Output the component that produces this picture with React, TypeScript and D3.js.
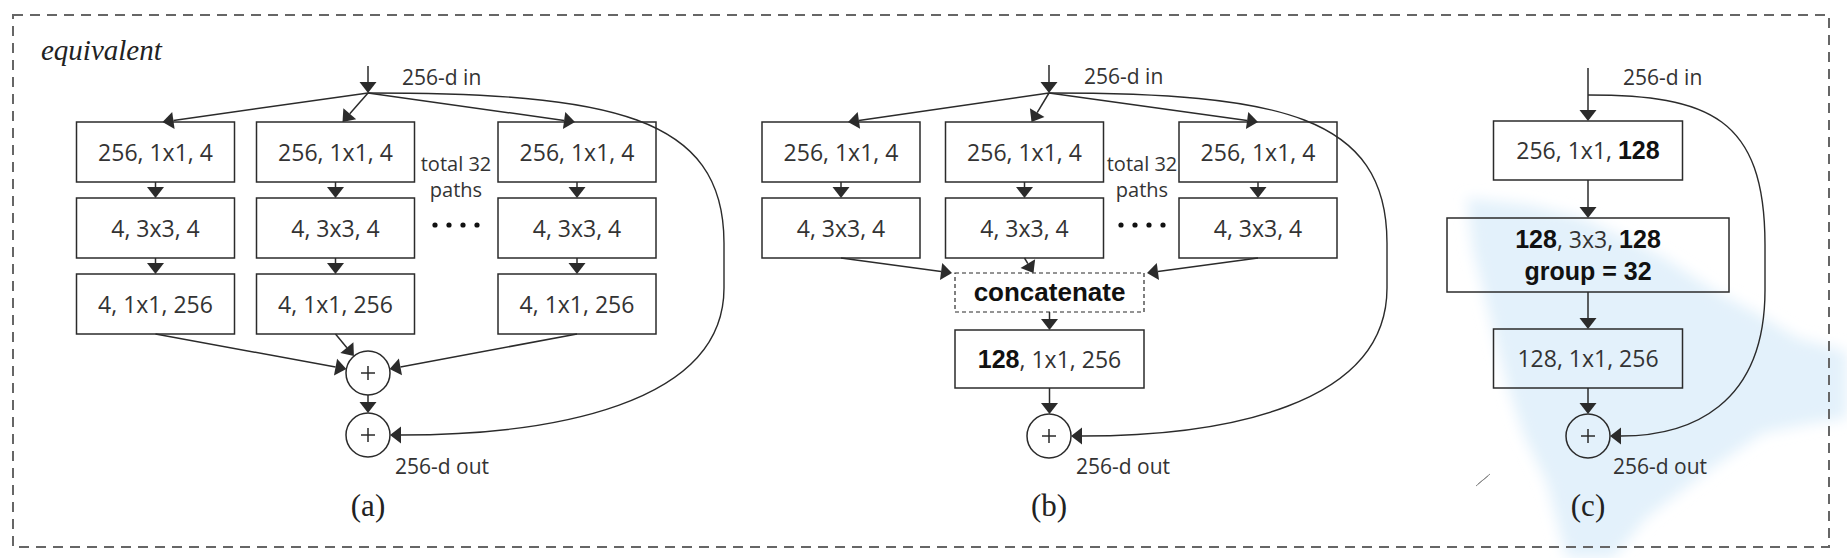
import { useEffect, useRef } from 'react'
import * as d3 from 'd3'

type Seg = { t: string; b?: boolean }

// text content of the figure
const cornerLabel = 'equivalent'
const inLabel = '256-d in'
const outLabel = '256-d out'
const panelTags = ['(a)', '(b)', '(c)']
const pathNote = ['total 32', 'paths']
const layersA = ['256, 1x1, 4', '4, 3x3, 4', '4, 1x1, 256']
const layersB = ['256, 1x1, 4', '4, 3x3, 4']
const concatLabel = 'concatenate'
const mergeB: Seg[] = [{ t: '128', b: true }, { t: ', 1x1, 256' }]
const layersC: Seg[][][] = [
  [[{ t: '256, 1x1, ' }, { t: '128', b: true }]],
  [[{ t: '128', b: true }, { t: ', 3x3, ' }, { t: '128', b: true }], [{ t: 'group = 32', b: true }]],
  [[{ t: '128, 1x1, 256' }]],
]
const shownPaths = ['first', 'second', 'last'] // 3 of the 32 paths are drawn

const W = 1847
const H = 558
const REG = "'Open Sans', 'Noto Sans', sans-serif"
const BOLD = "'Liberation Sans', Arial, sans-serif"
const SERIF = "'Liberation Serif', 'Times New Roman', serif"
const INK = '#2b2b2b'

export default function App() {
  const ref = useRef<HTMLDivElement>(null)

  useEffect(() => {
    if (!ref.current) return
    const container = ref.current
    container.innerHTML = ''

    const svg = d3.select(container).append('svg')
      .attr('width', W).attr('height', H)
      .style('position', 'absolute').style('left', 0).style('top', 0)
      .style('background', '#fff')

    const defs = svg.append('defs')
    defs.append('filter').attr('id', 'soft').attr('x', '-20%').attr('y', '-20%').attr('width', '140%').attr('height', '140%')
      .append('feGaussianBlur').attr('stdDeviation', 7)

    // faint blue smear behind panel (c)
    svg.append('path')
      .attr('d', d3.line()([[1467, 198], [1530, 205], [1580, 217], [1630, 240], [1663, 257], [1713, 290], [1760, 315], [1797, 338], [1847, 352], [1847, 418], [1813, 423], [1763, 433], [1713, 467], [1647, 517], [1613, 558], [1567, 558], [1560, 533], [1547, 483], [1523, 433], [1507, 383], [1490, 317], [1473, 250]]) + 'Z')
      .attr('fill', '#e3f1fb').attr('filter', 'url(#soft)')

    const g = svg.append('g')

    // small pen scribble left of (c)
    g.append('path').attr('d', 'M1476,486L1490,474M1478,484L1488,476')
      .attr('stroke', '#888').attr('stroke-width', 1)

    // dashed frame
    g.append('rect').attr('x', 13).attr('y', 15).attr('width', 1816).attr('height', 532)
      .attr('fill', 'none').attr('stroke', '#666').attr('stroke-width', 2).attr('stroke-dasharray', '10,7')

    g.append('text').attr('x', 41).attr('y', 60).text(cornerLabel)
      .style('font-family', SERIF).style('font-style', 'italic').style('font-size', '29px').attr('fill', '#222')

    const head = (x2: number, y2: number, a: number) => {
      const L = 11, hw = 8.5
      const bx = x2 - L * Math.cos(a), by = y2 - L * Math.sin(a)
      g.append('path')
        .attr('d', `M${x2},${y2}L${bx - hw * Math.sin(a)},${by + hw * Math.cos(a)}L${bx + hw * Math.sin(a)},${by - hw * Math.cos(a)}Z`)
        .attr('fill', INK)
      return [bx, by]
    }
    const arrow = (x1: number, y1: number, x2: number, y2: number) => {
      const a = Math.atan2(y2 - y1, x2 - x1)
      const [bx, by] = head(x2, y2, a)
      g.append('line').attr('x1', x1).attr('y1', y1).attr('x2', bx).attr('y2', by)
        .attr('stroke', INK).attr('stroke-width', 1.5)
    }
    const box = (cx: number, top: number, w: number, h: number, lines: Seg[][], dashed = false) => {
      g.append('rect').attr('x', cx - w / 2).attr('y', top).attr('width', w).attr('height', h)
        .attr('fill', 'none').attr('stroke', INK).attr('stroke-width', dashed ? 1.2 : 1.5)
        .attr('stroke-dasharray', dashed ? '4,3' : null)
      const lh = 32
      const y0 = top + h / 2 - (lines.length - 1) * lh / 2 + 8.5
      lines.forEach((ln, i) => {
        const t = g.append('text').attr('x', cx).attr('y', y0 + i * lh).attr('text-anchor', 'middle')
          .style('white-space', 'pre')
        ln.forEach(s => t.append('tspan').text(s.t)
          .style('font-family', s.b ? BOLD : REG).style('font-size', s.b ? '25px' : '23px')
          .style('font-weight', s.b ? 700 : 400).attr('fill', s.b ? '#111' : '#333'))
      })
    }
    const plus = (cx: number, cy: number) => {
      g.append('circle').attr('cx', cx).attr('cy', cy).attr('r', 22)
        .attr('fill', 'none').attr('stroke', INK).attr('stroke-width', 1.5)
      g.append('path').attr('d', `M${cx - 7},${cy}H${cx + 7}M${cx},${cy - 7}V${cy + 7}`)
        .attr('stroke', INK).attr('stroke-width', 1.5)
    }
    // arrow that ends on a circle's rim, aimed at its centre
    const toCircle = (x1: number, y1: number, cx: number, cy: number) => {
      const d = Math.hypot(cx - x1, cy - y1)
      arrow(x1, y1, cx - 22 * (cx - x1) / d, cy - 22 * (cy - y1) / d)
    }
    const label = (x: number, y: number, s: string, size = 21, anchor = 'start') =>
      g.append('text').attr('x', x).attr('y', y).attr('text-anchor', anchor).text(s)
        .style('font-family', REG).style('font-size', `${size}px`).attr('fill', '#333')
    const note = (cx: number) => {
      pathNote.forEach((s, i) => label(cx, [171, 197][i], s, 20, 'middle'))
      d3.range(4).forEach(k => g.append('circle').attr('cx', cx - 21 + k * 14).attr('cy', 225).attr('r', 2.6).attr('fill', '#111'))
    }
    // identity shortcut: leaves the input, swings right, returns to the last sum
    const shortcut = (cx: number, y0: number, xr: number, yEnd: number) => {
      const p = d3.path()
      p.moveTo(cx, y0)
      p.bezierCurveTo(cx + (xr - cx) * 0.68, y0, xr, y0 + 22, xr, y0 + 150)
      p.lineTo(xr, y0 + 195)
      p.bezierCurveTo(xr, yEnd - 30, cx + 22 + (xr - cx) * 0.45, yEnd, cx + 33, yEnd)
      g.append('path').attr('d', p.toString()).attr('fill', 'none').attr('stroke', INK).attr('stroke-width', 1.4)
      head(cx + 22, yEnd, Math.PI)
    }
    const tag = (cx: number, s: string) =>
      g.append('text').attr('x', cx).attr('y', 516).attr('text-anchor', 'middle').text(s)
        .style('font-family', SERIF).style('font-size', '31px').attr('fill', '#222')

    const boxW = 158, boxH = 60
    const rowTop = d3.scaleLinear().domain([0, 1]).range([122, 198])

    // ---------- (a) ----------
    const ax = d3.scaleOrdinal<string, number>().domain(shownPaths).range([155.5, 335.5, 577])
    const aIn = 368
    arrow(aIn, 66, aIn, 93)
    label(aIn + 34, 85, inLabel)
    shownPaths.forEach(k => {
      const cx = ax(k)
      arrow(aIn, 93, cx + (cx < aIn ? 7 : -2), rowTop(0))
      layersA.forEach((s, r) => {
        box(cx, rowTop(r), boxW, boxH, [[{ t: s }]])
        if (r > 0) arrow(cx, rowTop(r - 1) + boxH, cx, rowTop(r))
      })
      toCircle(cx, rowTop(layersA.length - 1) + boxH, aIn, 373)
    })
    note(456)
    plus(aIn, 373)
    arrow(aIn, 395, aIn, 413)
    plus(aIn, 435)
    shortcut(aIn, 93, 724, 435)
    label(aIn + 27, 474, outLabel)
    tag(aIn, panelTags[0])

    // ---------- (b) ----------
    const bx = d3.scaleOrdinal<string, number>().domain(shownPaths).range([841, 1024.5, 1258])
    const bIn = 1049
    arrow(bIn, 65, bIn, 93)
    label(bIn + 35, 84, inLabel)
    const catL = 955, catR = 1144, catTop = 273
    shownPaths.forEach((k, i) => {
      const cx = bx(k)
      arrow(bIn, 93, cx + (cx < bIn ? 7 : 0), rowTop(0))
      layersB.forEach((s, r) => {
        box(cx, rowTop(r), boxW, boxH, [[{ t: s }]])
        if (r > 0) arrow(cx, rowTop(r - 1) + boxH, cx, rowTop(r))
      })
      arrow(cx, rowTop(layersB.length - 1) + boxH, [catL - 3, cx + 9, catR + 3][i], catTop)
    })
    note(1142)
    const bc = (catL + catR) / 2
    g.append('rect').attr('x', catL).attr('y', catTop).attr('width', catR - catL).attr('height', 39)
      .attr('fill', 'none').attr('stroke', INK).attr('stroke-width', 1.2).attr('stroke-dasharray', '4,3')
    g.append('text').attr('x', bc).attr('y', 301).attr('text-anchor', 'middle').text(concatLabel)
      .style('font-family', BOLD).style('font-weight', 700).style('font-size', '26px').attr('fill', '#111')
    arrow(bc, 312, bc, 330)
    box(bc, 330, 189, 58, [mergeB])
    arrow(bc, 388, bc, 414)
    plus(bIn, 436)
    shortcut(bIn, 93, 1387, 436)
    label(bIn + 27, 474, outLabel)
    tag(bIn, panelTags[1])

    // ---------- (c) ----------
    const cIn = 1588
    const cTops = [121, 218, 329]
    const cH = [59, 74, 59]
    const cW = [189, 282, 189]
    arrow(cIn, 68, cIn, cTops[0])
    label(cIn + 35, 85, inLabel)
    layersC.forEach((lines, r) => {
      box(cIn, cTops[r], cW[r], cH[r], lines)
      if (r > 0) arrow(cIn, cTops[r - 1] + cH[r - 1], cIn, cTops[r])
    })
    arrow(cIn, cTops[2] + cH[2], cIn, 414)
    plus(cIn, 436)
    shortcut(cIn, 95, 1765, 436)
    label(cIn + 25, 474, outLabel)
    tag(cIn, panelTags[2])

    return () => { container.innerHTML = '' }
  }, [])

  return <div ref={ref} style={{ width: W, height: H }} />
}
